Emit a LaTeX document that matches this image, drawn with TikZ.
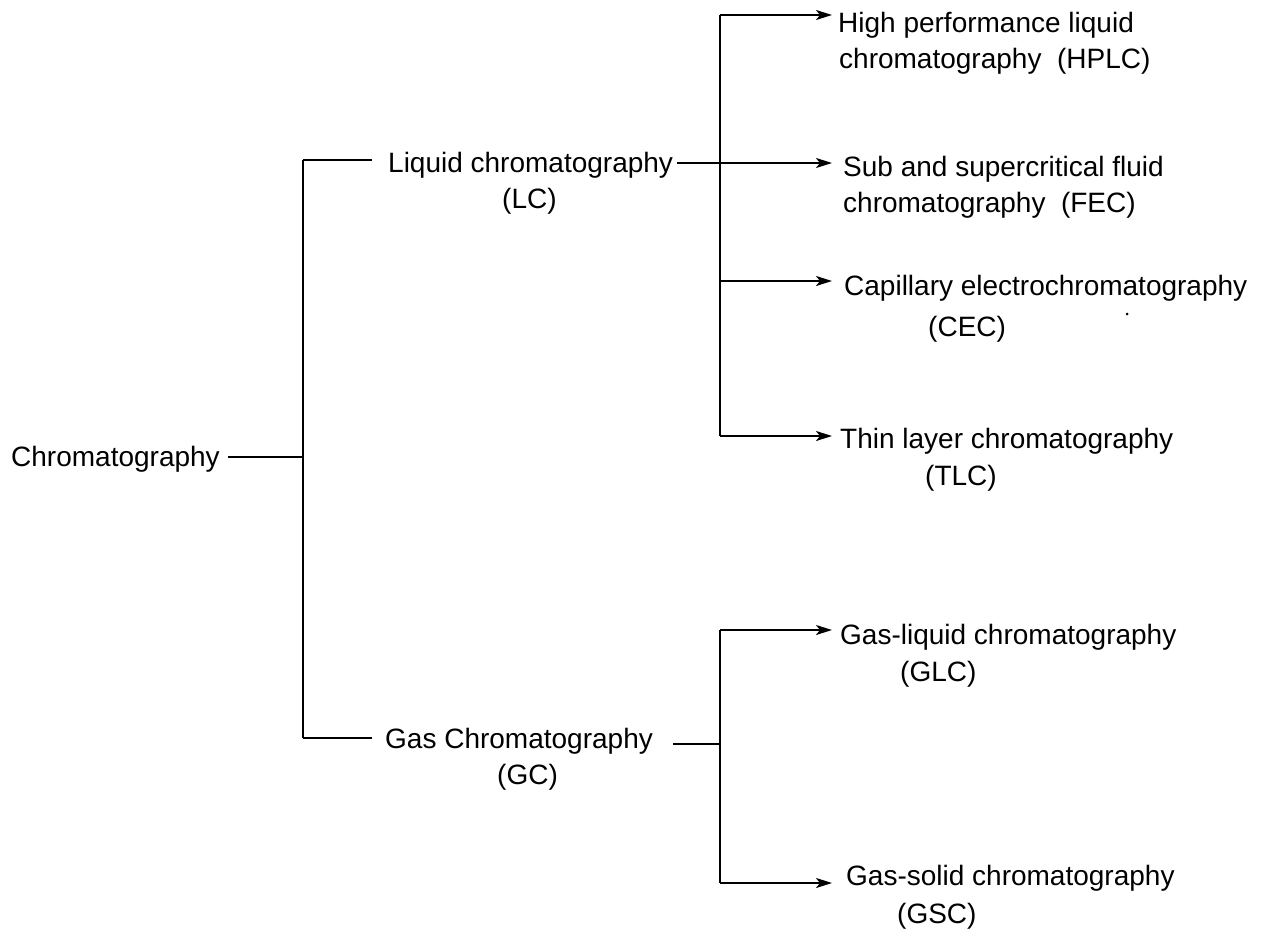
\documentclass[tikz,border=0pt]{standalone}
\usepackage{fontspec}
\setmainfont{Liberation Sans}
\usetikzlibrary{arrows.meta}
\begin{document}
\begin{tikzpicture}[x=1pt,y=-1pt,
  lbl/.style={anchor=base west,inner sep=0pt,font=\fontsize{28}{34}\selectfont},
  conn/.style={line width=2pt},
  arr/.style={line width=2pt,-{Stealth[length=16pt,width=10pt,inset=4pt]}}]
\useasboundingbox (0,0) rectangle (1269,932);
% texts
\node[lbl] (chrom) at (11,466) {Chromatography};
\node[lbl] (lc) at (388,172) {Liquid chromatography};
\node[lbl] (lcb) at (502,208) {(LC)};
\node[lbl] (gc) at (385,748) {Gas Chromatography};
\node[lbl] (gcb) at (497,784) {(GC)};
\node[lbl] (hplc) at (838,32) {High performance liquid};
\node[lbl] (hplcb) at (839,68) {chromatography\ \ (HPLC)};
\node[lbl] (fec) at (843,176) {Sub and supercritical fluid};
\node[lbl] (fecb) at (843,212) {chromatography\ \ (FEC)};
\node[lbl] (cec) at (844,295) {Capillary electrochromatography};
\node[lbl] (cecb) at (928,336) {(CEC)};
\node[lbl] (tlc) at (840,448) {Thin layer chromatography};
\node[lbl] (tlcb) at (925,485) {(TLC)};
\node[lbl] (glc) at (840,644) {Gas-liquid chromatography};
\node[lbl] (glcb) at (900,681) {(GLC)};
\node[lbl] (gsc) at (846,885) {Gas-solid chromatography};
\node[lbl] (gscb) at (897,923) {(GSC)};
% junction coordinates
\coordinate (j0) at (303,457);
\coordinate (jlc) at (303,160);
\coordinate (jgc) at (303,738);
\coordinate (elc) at (372,160);
\coordinate (egc) at (372,738);
\coordinate (t1top) at (720,15);
\coordinate (t1sub) at (720,163);
\coordinate (t1cec) at (720,281);
\coordinate (t1bot) at (720,436);
\coordinate (t2top) at (720,630);
\coordinate (t2mid) at (720,744);
\coordinate (t2bot) at (720,883);
\coordinate (hplcin) at (832,15);
\coordinate (fecin) at (832,163);
\coordinate (cecin) at (832,281);
\coordinate (tlcin) at (832,436);
\coordinate (glcin) at (832,630);
\coordinate (gscin) at (832,883);
% connectors
\draw[conn] (chrom.east |- j0) ++(8,0) -- (j0);
\draw[conn] (jlc) -- (jgc);
\draw[conn] (jlc) -- (elc);
\draw[conn] (jgc) -- (egc);
\draw[conn] ([xshift=4pt]lc.east |- t1sub) -- (t1sub);
\draw[conn] (t1top) -- (t1bot);
\draw[arr] (t1top) -- (hplcin);
\draw[arr] (t1sub) -- (fecin);
\draw[arr] (t1cec) -- (cecin);
\draw[arr] (t1bot) -- (tlcin);
\draw[conn] ([xshift=20pt]gc.east |- t2mid) -- (t2mid);
\draw[conn] (t2top) -- (t2bot);
\draw[arr] (t2top) -- (glcin);
\draw[arr] (t2bot) -- (gscin);
% stray dot
\fill (1127,314) circle (1.5pt);
\end{tikzpicture}
\end{document}
